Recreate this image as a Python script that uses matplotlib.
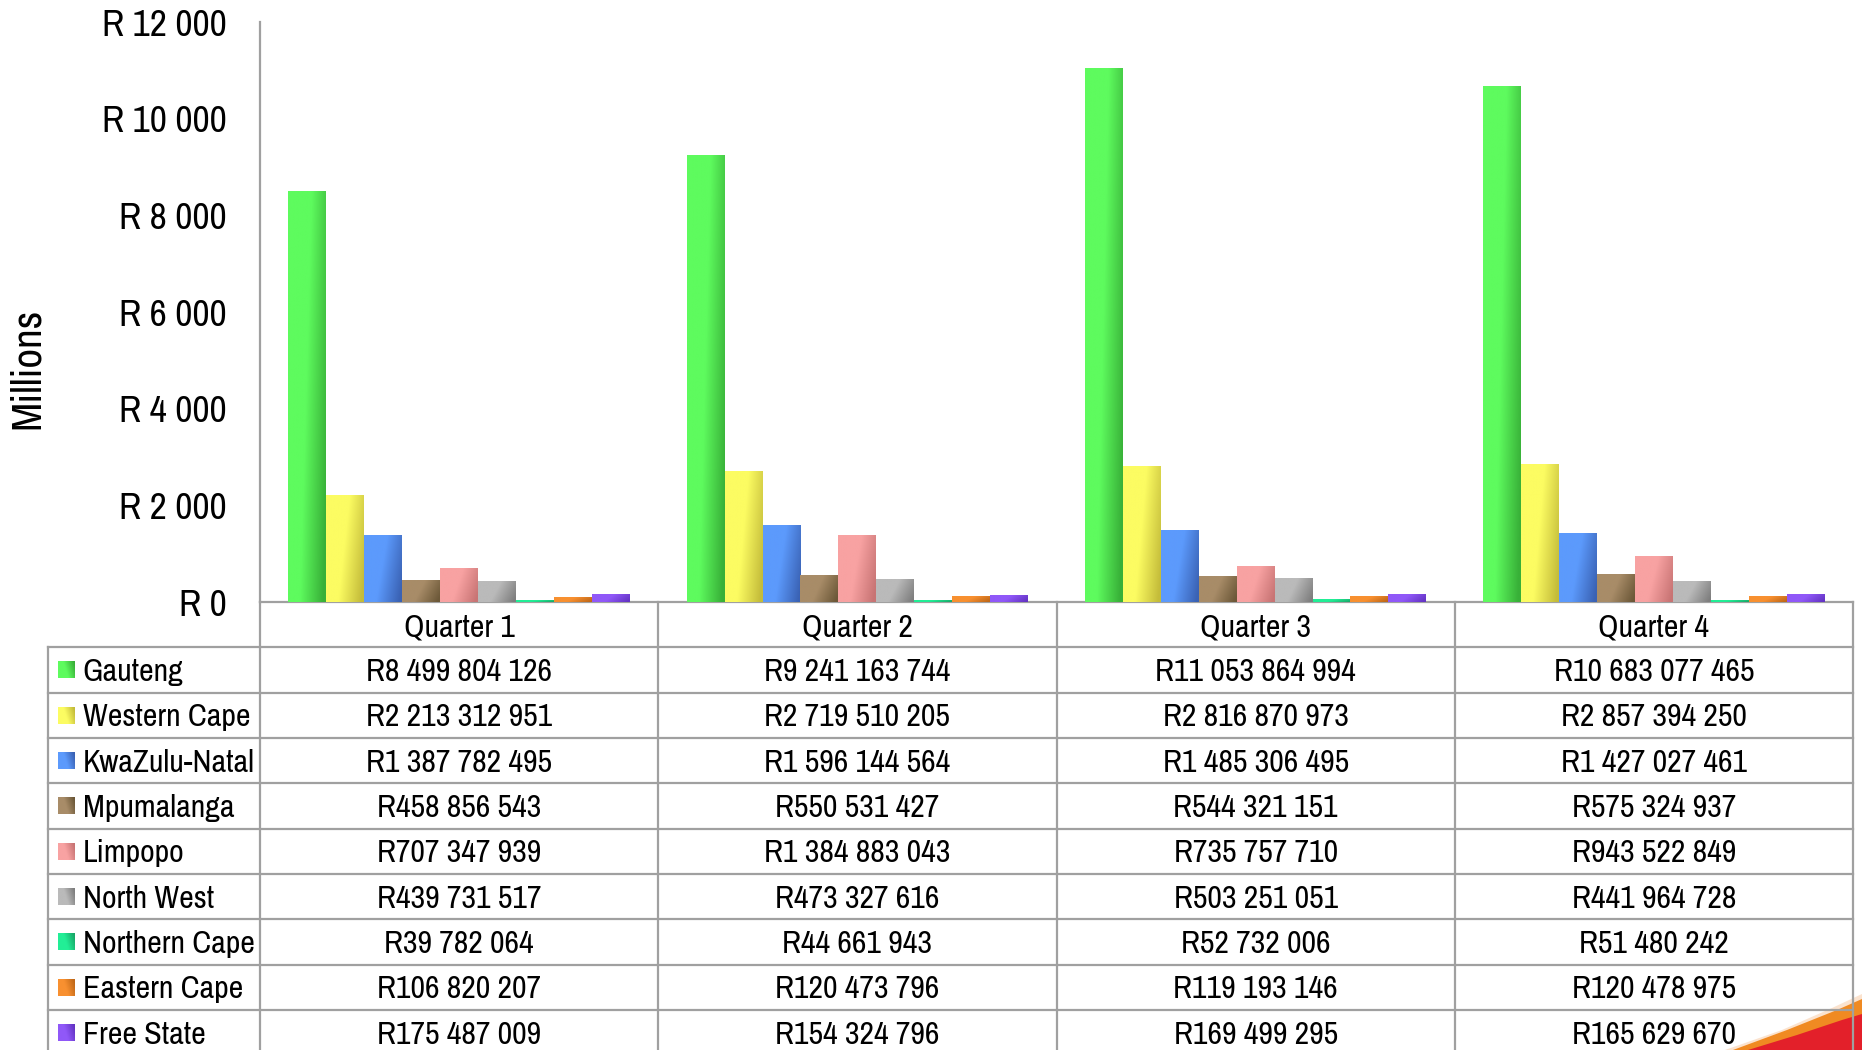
import numpy as np
import matplotlib.pyplot as plt
from matplotlib.colors import LinearSegmentedColormap
from matplotlib.patches import Polygon
from matplotlib.ticker import FuncFormatter

plt.rcParams['font.family'] = ['Archivo Narrow', 'Roboto Condensed', 'DejaVu Sans']

quarters = ["Quarter 1", "Quarter 2", "Quarter 3", "Quarter 4"]
provinces = ["Gauteng", "Western Cape", "KwaZulu-Natal", "Mpumalanga", "Limpopo",
             "North West", "Northern Cape", "Eastern Cape", "Free State"]

gauteng = [8499804126, 9241163744, 11053864994, 10683077465]
western_cape = [2213312951, 2719510205, 2816870973, 2857394250]
kwazulu_natal = [1387782495, 1596144564, 1485306495, 1427027461]
mpumalanga = [458856543, 550531427, 544321151, 575324937]
limpopo = [707347939, 1384883043, 735757710, 943522849]
north_west = [439731517, 473327616, 503251051, 441964728]
northern_cape = [39782064, 44661943, 52732006, 51480242]
eastern_cape = [106820207, 120473796, 119193146, 120478975]
free_state = [175487009, 154324796, 169499295, 165629670]

series = [gauteng, western_cape, kwazulu_natal, mpumalanga, limpopo,
          north_west, northern_cape, eastern_cape, free_state]

# (light, dark) ends of each bar's shading
shades = [("#5EFB5E", "#38B038"), ("#FCFC62", "#C4BC3A"), ("#5C9AFC", "#3A62B4"),
          ("#A88C68", "#6C5838"), ("#F8A2A2", "#C87474"), ("#BABABA", "#7E7E7E"),
          ("#22EE96", "#18A868"), ("#F89030", "#C06818"), ("#9058F8", "#6434C4")]

W, H = 1862, 1050
fig = plt.figure(figsize=(W / 100, H / 100), dpi=100)

# pixel layout
x_axis_left, x_axis_right = 260, 1853
y_zero, y_top = 602, 22
table_left = 48
header_bottom = 647.3
row_h = 45.33
grid_col = "#A0A0A0"
fs_table = 23

# background overlay in pixel coordinates: table + corner swoosh
bg = fig.add_axes([0, 0, 1, 1], zorder=0)
bg.set_xlim(0, W)
bg.set_ylim(H, 0)
bg.axis("off")

bg.add_patch(Polygon([(1725, 1050), (1782, 1030), (1832, 1008), (1862, 994), (1862, 1050)],
                     closed=True, facecolor="#FBE3CF", edgecolor="none", zorder=1))
bg.add_patch(Polygon([(1733, 1050), (1787, 1030), (1837, 1010), (1862, 999), (1862, 1050)],
                     closed=True, facecolor="#F08A22", edgecolor="none", zorder=1))
bg.add_patch(Polygon([(1748, 1050), (1797, 1035), (1842, 1020), (1862, 1014), (1862, 1050)],
                     closed=True, facecolor="#E3202A", edgecolor="none", zorder=1))

col_edges = np.linspace(x_axis_left, x_axis_right, len(quarters) + 1)
lw = 1.6

# horizontal rules
for k in range(len(provinces)):
    y = header_bottom + k * row_h
    bg.plot([table_left, x_axis_right], [y, y], color=grid_col, lw=lw, zorder=2)
# vertical rules
bg.plot([table_left, table_left], [header_bottom, H], color=grid_col, lw=lw, zorder=2)
for x in col_edges:
    bg.plot([x, x], [y_zero, H], color=grid_col, lw=lw, zorder=2)


def gradient_image(light, dark, n=64):
    cmap = LinearSegmentedColormap.from_list("shade", [light, light, dark])
    gx, gy = np.meshgrid(np.linspace(0, 1, n), np.linspace(0, 1, n))
    # lighter toward top-left, darker toward bottom-right
    t = np.clip(0.8 * gx + 0.25 * gy, 0, 1)
    return cmap(t)


# row labels with legend keys, and values
for k, (name, vals, (light, dark)) in enumerate(zip(provinces, series, shades)):
    yc = header_bottom + (k + 0.5) * row_h
    key = gradient_image(light, dark, 16)
    bg.imshow(key[::-1], extent=[58, 75, yc + 8.5, yc - 8.5], aspect="auto", zorder=3)
    bg.text(82.6, yc + 11, name, fontsize=fs_table, ha="left", va="baseline", zorder=3)
    for i, v in enumerate(vals):
        xc = (col_edges[i] + col_edges[i + 1]) / 2
        bg.text(xc, yc + 11, "R" + f"{v:,}".replace(",", " "), fontsize=fs_table,
                ha="center", va="baseline", zorder=3)

# main chart
ax = fig.add_axes([x_axis_left / W, 1 - y_zero / H,
                   (x_axis_right - x_axis_left) / W, (y_zero - y_top) / H], zorder=2)
ax.patch.set_alpha(0)

n = len(series)
bw = 1 / (n + 1.5)
x = np.arange(len(quarters))
for j, (vals, (light, dark)) in enumerate(zip(series, shades)):
    heights = np.array(vals) / 1e6
    pos = x + (j - (n - 1) / 2) * bw
    bars = ax.bar(pos, heights, width=bw, color=dark, edgecolor="none", zorder=2)
    img = gradient_image(light, dark)
    for b in bars:
        x0, h = b.get_x(), b.get_height()
        im = ax.imshow(img, extent=[x0, x0 + bw, 0, h], origin="upper",
                       aspect="auto", zorder=3)
        im.set_clip_path(b)

ax.set_xlim(-0.5, len(quarters) - 0.5)
ax.set_ylim(0, 12000)
ax.set_yticks(np.arange(0, 12001, 2000))
ax.yaxis.set_major_formatter(FuncFormatter(lambda v, p: "R " + f"{int(v):,}".replace(",", " ")))
ax.tick_params(axis="y", length=0, pad=24, labelsize=27)
ax.set_xticks(x, quarters)
ax.tick_params(axis="x", length=0, pad=8, labelsize=fs_table)
ax.set_ylabel("Millions", fontsize=31)
ax.yaxis.set_label_coords(-0.1343, 0.403)

for s in ["top", "right"]:
    ax.spines[s].set_visible(False)
for s in ["left", "bottom"]:
    ax.spines[s].set_color(grid_col)
    ax.spines[s].set_linewidth(lw)

fig.savefig("out.png", dpi=100)
